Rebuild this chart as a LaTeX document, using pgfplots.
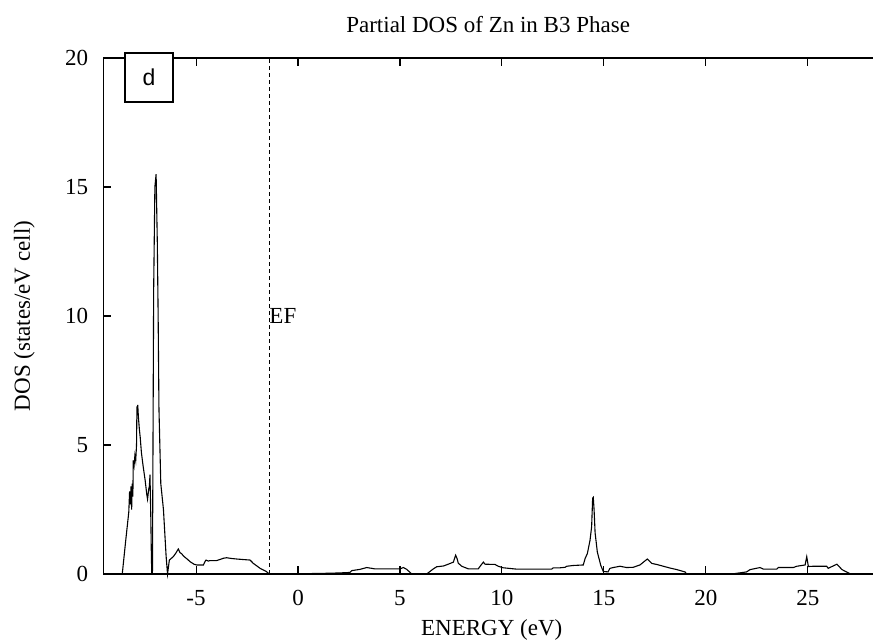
\documentclass[border=0pt]{standalone}
\usepackage{pgfplots}
\pgfplotsset{compat=1.18}
\usepackage{fontspec}
\setmainfont{Liberation Serif}
\newfontfamily\arialfont{Liberation Sans}

% partial density of states of Zn, B3 phase
\pgfplotstableread{
E      D
-8.62  0.00
-8.45  1.30
-8.30  2.40
-8.26  3.20
-8.22  2.70
-8.19  3.40
-8.16  2.50
-8.13  3.50
-8.10  3.00
-8.08  4.40
-8.04  4.20
-8.00  4.60
-7.96  4.40
-7.92  5.00
-7.90  6.50
-7.88  6.30
-7.86  6.55
-7.83  6.10
-7.78  5.60
-7.74  5.30
-7.68  4.70
-7.60  4.20
-7.50  3.65
-7.42  3.10
-7.38  2.90
-7.32  3.30
-7.29  3.40
-7.26  3.85
-7.22  2.20
-7.19  0.60
-7.17  0.00
-7.14  0.00
-7.08  11.00
-7.02  15.00
-6.96  15.50
-6.90  12.80
-6.86  10.00
-6.82  6.40
-6.73  3.50
-6.60  2.50
-6.47  0.70
-6.40  0.00
-6.31  0.54
-6.12  0.67
-6.00  0.80
-5.87  0.97
-5.79  0.83
-5.70  0.78
-5.62  0.70
-5.50  0.62
-5.38  0.54
-5.30  0.48
-5.10  0.38
-4.97  0.35
-4.64  0.35
-4.55  0.50
-4.51  0.54
-4.40  0.50
-4.32  0.52
-3.99  0.52
-3.80  0.57
-3.66  0.61
-3.50  0.63
-3.25  0.60
-3.00  0.58
-2.68  0.56
-2.35  0.54
-2.19  0.41
-1.86  0.22
-1.54  0.09
-1.42  0.00
 1.00  0.02
 1.50  0.03
 2.00  0.04
 2.55  0.06
 2.63  0.13
 3.04  0.18
 3.37  0.25
 3.61  0.22
 3.75  0.20
 5.00  0.20
 5.17  0.25
 5.33  0.18
 5.58  0.00
 6.31  0.00
 6.64  0.20
 6.80  0.28
 7.13  0.31
 7.37  0.38
 7.62  0.46
 7.73  0.73
 7.80  0.60
 7.86  0.42
 8.03  0.30
 8.35  0.20
 8.84  0.20
 8.96  0.33
 9.09  0.46
 9.17  0.38
 9.66  0.37
 9.82  0.30
10.07  0.24
10.70  0.19
12.44  0.19
12.52  0.24
12.85  0.24
13.10  0.26
13.18  0.30
13.50  0.33
13.99  0.35
14.08  0.60
14.19  0.79
14.32  1.30
14.40  1.83
14.45  2.94
14.48  2.97
14.52  2.50
14.57  1.60
14.68  0.85
14.85  0.33
14.97  0.10
15.20  0.08
15.30  0.22
15.46  0.25
15.79  0.30
16.12  0.25
16.44  0.26
16.77  0.35
17.13  0.58
17.35  0.41
17.59  0.37
17.92  0.30
18.25  0.23
18.58  0.17
18.98  0.08
19.06  0.00
21.27  0.00
22.00  0.08
22.17  0.17
22.66  0.25
22.82  0.19
23.48  0.19
23.56  0.25
24.29  0.25
24.46  0.30
24.87  0.35
24.95  0.67
25.03  0.29
25.27  0.30
25.93  0.30
26.00  0.22
26.43  0.38
26.68  0.17
26.85  0.10
27.10  0.00
}\dosZn

\begin{document}
\begin{tikzpicture}
\def\txt{\fontsize{23}{26}\selectfont}
\begin{axis}[
  scale only axis, width=769.7pt, height=516pt,
  xmin=-9.55, xmax=28.2, ymin=0, ymax=20,
  axis x line=box, axis y line=left,
  y axis line style={-},
  axis line style={line width=1.3pt},
  xtick={-5,0,5,10,15,20,25}, ytick={0,5,10,15,20},
  tick align=inside, major tick length=8pt,
  tick style={line width=1.1pt, black},
  /pgf/number format/assume math mode=true,
  tick label style={font=\txt, inner sep=0pt},
  xticklabel style={yshift=-16pt},
  yticklabel style={xshift=-15pt},
  clip=false,
]
  \addplot[black, line width=1.1pt, sharp plot] table[x=E, y=D] {\dosZn};
  % Fermi level
  \addplot[black, line width=1pt, dash pattern=on 4pt off 3pt] coordinates {(-1.41,0) (-1.41,20)};
  \node[anchor=west, inner sep=0pt, font=\txt] at (axis cs:-1.41,10) {EF};
  \node[draw, line width=1.6pt, fill=white, minimum width=48pt, minimum height=49pt,
        inner sep=0pt, font=\arialfont\fontsize{23}{26}\selectfont] at (axis cs:-7.31,19.24) {d};
  \node[font=\txt] at ([yshift=33pt]rel axis cs:0.5,1) {Partial DOS of Zn in B3 Phase};
  \node[font=\txt] at ([yshift=-56pt]axis cs:9.5,0) {ENERGY (eV)};
  \node[font=\txt, rotate=90] at ([xshift=-79pt]rel axis cs:0,0.5) {DOS (states/eV cell)};
  \coordinate (ll) at (rel axis cs:0,0);
  \coordinate (ur) at (rel axis cs:1,1);
\end{axis}
\pgfresetboundingbox
\path[use as bounding box] ([shift={(-103.3pt,-70pt)}]ll) rectangle ([shift={(0pt,58pt)}]ur);
\end{tikzpicture}
\end{document}
